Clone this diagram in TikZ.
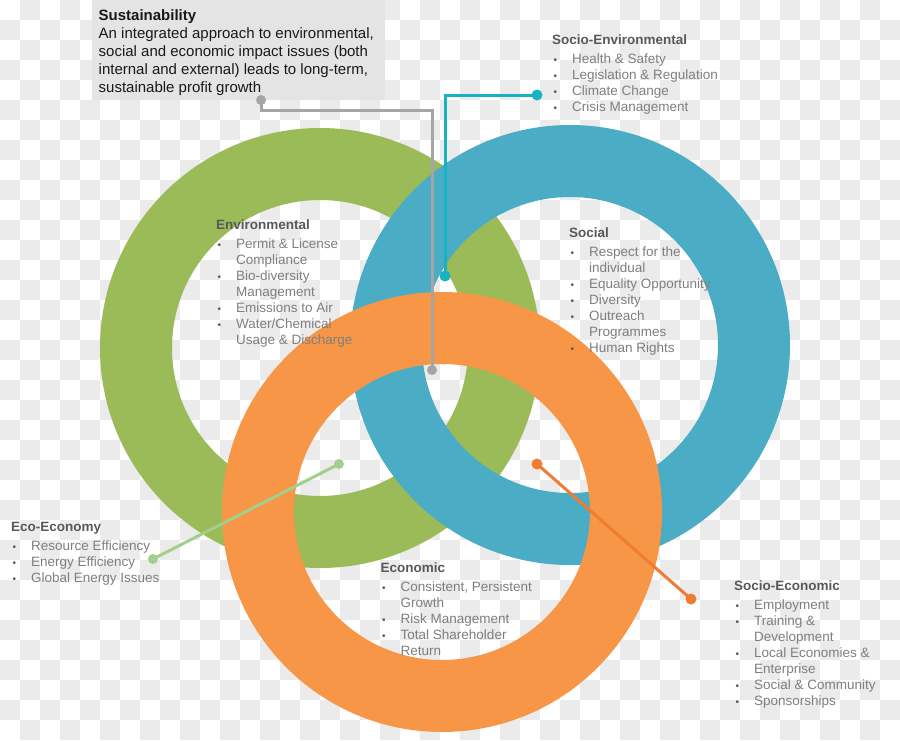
\documentclass[tikz,border=0pt]{standalone}
\usepackage{fontspec}
\setmainfont{Liberation Sans}
\definecolor{ringgreen}{HTML}{9BBB59}
\definecolor{ringblue}{HTML}{4BACC6}
\definecolor{ringorange}{HTML}{F79646}
\definecolor{checkgray}{HTML}{EBEBEB}
\definecolor{boxgray}{HTML}{E4E4E4}
\definecolor{titlegray}{HTML}{595959}
\definecolor{textgray}{HTML}{7F7F7F}
\definecolor{congray}{HTML}{A5A5A5}
\definecolor{conteal}{HTML}{17B2C3}
\definecolor{congreen}{HTML}{A2D08C}
\definecolor{conorange}{HTML}{EE7D31}
\newcommand{\bul}{\makebox[20pt][l]{\hspace{1.5pt}{\color{titlegray}\fontsize{10}{10}\selectfont\textbullet}}}
\newcommand{\itm}[1]{\bul#1\\}
\newcommand{\cnt}[1]{\hspace*{20pt}#1\\}
\newcommand{\ttl}[1]{{\bfseries\color{titlegray}#1}\\[3pt]}
\newenvironment{blist}{\begin{tabular}[t]{@{}l@{}}}{\end{tabular}}
\tikzset{
  ring/.style={fill=#1, even odd rule},
  dot/.style={circle, fill=#1, inner sep=0pt, minimum size=11pt},
  conn/.style={line width=3pt, draw=#1},
  listnode/.style={anchor=base west, inner sep=0pt, text=textgray, font=\fontsize{13.5}{16}\selectfont},
}
\begin{document}
\begin{tikzpicture}[x=1pt, y=-1pt]
\useasboundingbox (0,0) rectangle (900,740);
% transparency checkerboard
\fill[white] (0,0) rectangle (900,740);
\foreach \i in {0,...,44}{\foreach \j in {0,...,36}{%
  \pgfmathtruncatemacro\odd{mod(\i+\j,2)}%
  \ifnum\odd=1 \fill[checkgray] (20*\i,20*\j) rectangle ++(20,20);\fi}}
% sustainability box
\fill[boxgray] (92,0) rectangle (385,100);
\node[anchor=base west, inner sep=0pt, font=\fontsize{15}{18.1}\selectfont, text=black!90] (sust) at (98.5,20)
  {\begin{tabular}[t]{@{}l@{}}\textbf{Sustainability}\\An integrated approach to environmental,\\social and economic impact issues (both\\internal and external) leads to long-term,\\sustainable profit growth\end{tabular}};
% rings
\fill[ring=ringgreen] (320,348) circle[radius=220pt] (320,348) circle[radius=148pt];
\fill[ring=ringblue] (570,345) circle[radius=220pt] (570,345) circle[radius=148pt];
\fill[ring=ringorange] (442,512) circle[radius=220pt] (442,512) circle[radius=148pt];
% lists
\node[listnode] (soenv) at (552,44.5) {\begin{blist}\ttl{Socio-Environmental}\itm{Health \& Safety}\itm{Legislation \& Regulation}\itm{Climate Change}\itm{Crisis Management}\end{blist}};
\node[listnode] (env) at (216,229) {\begin{blist}\ttl{Environmental}\itm{Permit \& License}\cnt{Compliance}\itm{Bio-diversity}\cnt{Management}\itm{Emissions to Air}\itm{Water/Chemical}\cnt{Usage \& Discharge}\end{blist}};
\node[listnode] (soc) at (569,237.5) {\begin{blist}\ttl{Social}\itm{Respect for the}\cnt{individual}\itm{Equality Opportunity}\itm{Diversity}\itm{Outreach}\cnt{Programmes}\itm{Human Rights}\end{blist}};
\node[listnode] (econ) at (380.5,572) {\begin{blist}\ttl{Economic}\itm{Consistent, Persistent}\cnt{Growth}\itm{Risk Management}\itm{Total Shareholder}\cnt{Return}\end{blist}};
\node[listnode] (ecoeco) at (11,531) {\begin{blist}\ttl{Eco-Economy}\itm{Resource Efficiency}\itm{Energy Efficiency}\itm{Global Energy Issues}\end{blist}};
\node[listnode] (soeco) at (734,590) {\begin{blist}\ttl{Socio-Economic}\itm{Employment}\itm{Training \&}\cnt{Development}\itm{Local Economies \&}\cnt{Enterprise}\itm{Social \& Community}\itm{Sponsorships}\end{blist}};
% connectors
\node[dot=congray, minimum size=10pt] (gA) at (261,100) {};
\node[dot=congray, minimum size=10pt] (gB) at (432,370) {};
\coordinate (gK1) at (261,110);
\coordinate (gK2) at (432,110);
\draw[conn=congray] (gA.center) -- (gK1) -- (gK2) -- (gB.center);
\node[dot=conteal] (tA) at (537,95) {};
\node[dot=conteal] (tB) at (445,276) {};
\coordinate (tK) at (445,95);
\draw[conn=conteal] (tA.center) -- (tK) -- (tB.center);
\node[dot=congreen, minimum size=10pt] (eA) at (339,464) {};
\node[dot=congreen, minimum size=10pt] (eB) at (153,559) {};
\draw[conn=congreen] (eA.center) -- (eB.center);
\node[dot=conorange] (oA) at (537,464) {};
\node[dot=conorange] (oB) at (691,599) {};
\draw[conn=conorange] (oA.center) -- (oB.center);
\end{tikzpicture}
\end{document}
